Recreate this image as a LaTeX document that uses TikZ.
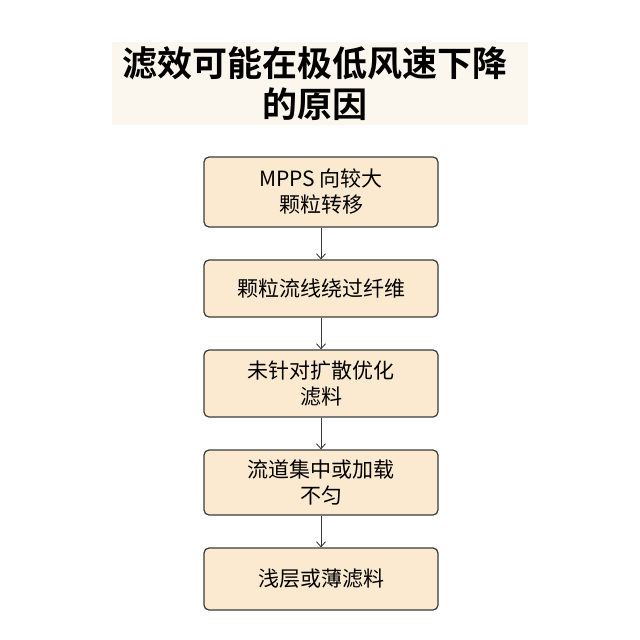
\documentclass[tikz,border=0pt]{standalone}
\usepackage{fontspec}
\setmainfont{Noto Sans CJK SC}
\newfontfamily\titlefont{Noto Sans CJK SC Bold}
\usetikzlibrary{arrows.meta}
\definecolor{boxfill}{HTML}{FBEAD0}
\definecolor{titlebg}{HTML}{FBF6EE}
\definecolor{boxdraw}{HTML}{3A3A3A}
\tikzset{
  stepbox/.style={draw=boxdraw,fill=boxfill,rounded corners=5pt,line width=1.2pt,minimum width=234pt,align=center,font=\fontsize{21}{26}\selectfont,inner sep=0pt},
  conn/.style={-{Straight Barb[length=5pt,width=9pt]},line width=0.9pt,draw=boxdraw}
}
\begin{document}
\begin{tikzpicture}[x=1pt,y=-1pt]
\useasboundingbox (0,0) rectangle (640,640);
\fill[titlebg] (112,42) rectangle (528,125);
\node[align=center,font=\titlefont\fontsize{35}{41}\selectfont] (title) at (315,84) {滤效可能在极低风速下降\\的原因};
\node[stepbox,minimum height=70pt] (b1) at (321,192) {MPPS 向较大\\颗粒转移};
\node[stepbox,minimum height=57pt] (b2) at (321,288.5) {颗粒流线绕过纤维};
\node[stepbox,minimum height=67pt] (b3) at (321,383.5) {未针对扩散优化\\滤料};
\node[stepbox,minimum height=65pt] (b4) at (321,482.5) {流道集中或加载\\不匀};
\node[stepbox,minimum height=62pt] (b5) at (321,579) {浅层或薄滤料};
\draw[conn] (b1) -- (b2);
\draw[conn] (b2) -- (b3);
\draw[conn] (b3) -- (b4);
\draw[conn] (b4) -- (b5);
\end{tikzpicture}
\end{document}
